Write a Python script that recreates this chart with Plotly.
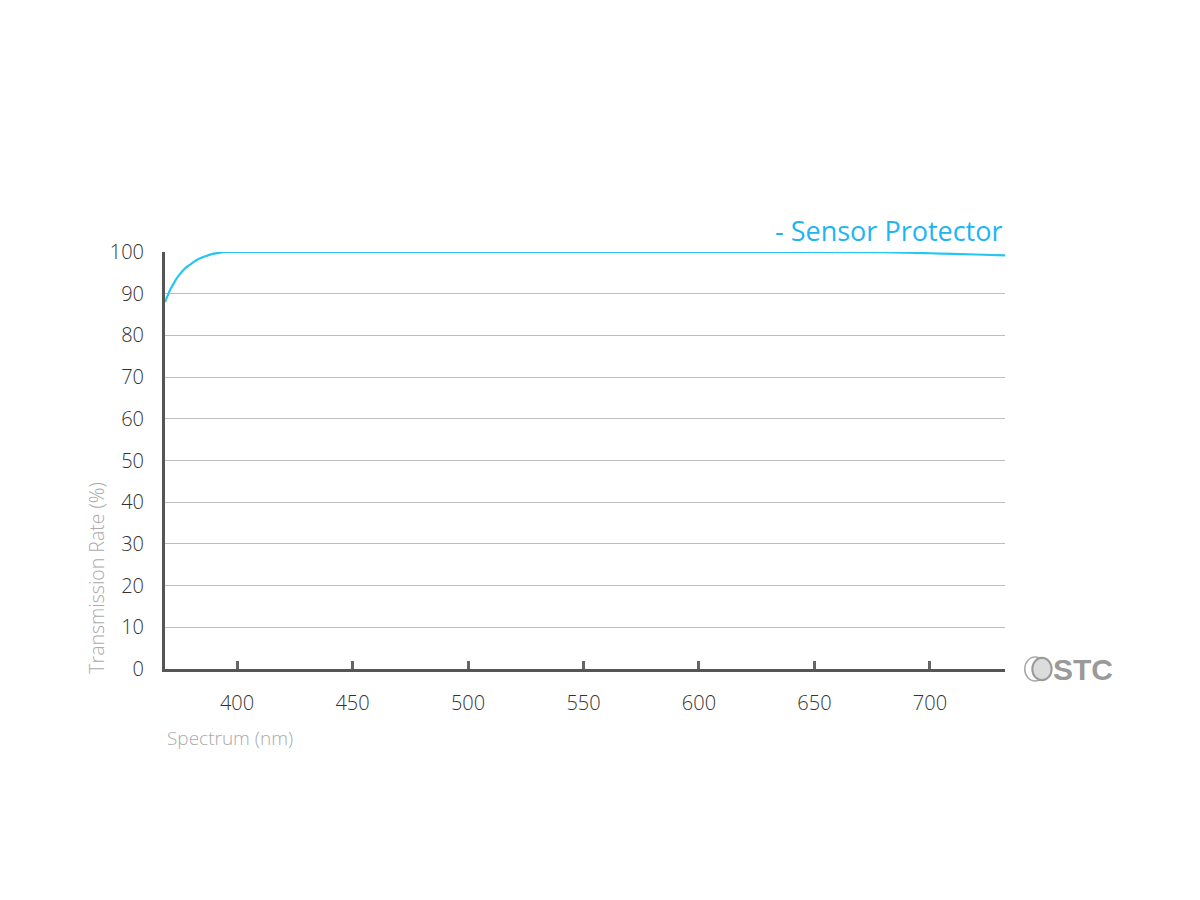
import plotly.graph_objects as go

# Data
wavelength = [368.8, 370, 371, 372, 373, 374, 375, 376, 377, 378, 380, 382, 384, 386, 388, 390, 392, 394, 396,
              450, 500, 550, 600, 650, 680, 690, 700, 710, 720, 732.5]
transmission = [88.0, 89.6, 90.9, 91.9, 92.9, 93.8, 94.5, 95.2, 95.8, 96.3, 97.1, 97.9, 98.5, 98.9, 99.3, 99.6, 99.8, 99.95, 100.0,
                100.0, 100.0, 100.0, 100.0, 100.0, 99.95, 99.85, 99.7, 99.55, 99.4, 99.2]
x_ticks = [400, 450, 500, 550, 600, 650, 700]
y_ticks = [0, 10, 20, 30, 40, 50, 60, 70, 80, 90, 100]
series_name = "- Sensor Protector"

fig = go.Figure()
fig.add_trace(go.Scatter(
    x=wavelength, y=transmission, mode="lines", line=dict(color="#27c6f2", width=2.2, shape="spline"),
    name=series_name, showlegend=False, cliponaxis=False, hoverinfo="skip"))

tick_font = dict(family="Open Sans", size=20, color="#333333", weight=300)

fig.update_layout(
    width=1200, height=900,
    margin=dict(l=157, r=203, t=244, b=239),
    plot_bgcolor="white", paper_bgcolor="white",
    xaxis=dict(range=[368.8, 732.5], tickvals=x_ticks, showgrid=False, zeroline=False,
               showline=True, linecolor="#555555", linewidth=3,
               ticks="inside", ticklen=8, tickwidth=3, tickcolor="#666666",
               tickfont=tick_font, ticklabelstandoff=14),
    yaxis=dict(range=[0, 100], tickvals=y_ticks, showgrid=True, gridcolor="#bdbdbd", gridwidth=1.2,
               zeroline=False, showline=True, linecolor="#555555", linewidth=3,
               ticks="", tickfont=tick_font, ticklabelstandoff=14),
    annotations=[
        dict(text=series_name, xref="paper", yref="paper", x=1.0, y=1.003, xanchor="right", yanchor="bottom",
             showarrow=False, font=dict(family="Open Sans", size=27, color="#1cb6f2")),
        dict(text="Spectrum (nm)", xref="paper", yref="paper", x=0.0, y=-0.165, xanchor="left", yanchor="middle",
             showarrow=False, font=dict(family="Open Sans", size=19, color="#aaaaaa", weight=300)),
        dict(text="Transmission Rate (%)", xref="paper", yref="paper", x=-0.081, y=-0.016, xanchor="center",
             yanchor="bottom", textangle=-90, showarrow=False,
             font=dict(family="Open Sans", size=19.5, color="#aaaaaa", weight=300)),
        dict(text="<b>STC</b>", xref="paper", yref="paper", x=1.055, y=0.0, xanchor="left", yanchor="middle",
             showarrow=False, font=dict(family="Liberation Sans", size=30, color="#9a9a9a")),
    ],
    shapes=[
        dict(type="circle", xref="paper", yref="paper", x0=1.0235, x1=1.0485, y0=-0.029, y1=0.029,
             line=dict(color="#a8a8a8", width=1.5)),
        dict(type="circle", xref="paper", yref="paper", x0=1.0325, x1=1.0555, y0=-0.027, y1=0.027,
             line=dict(color="#999999", width=2), fillcolor="#dcdcdc"),
    ],
)

fig.write_html("out.html")
